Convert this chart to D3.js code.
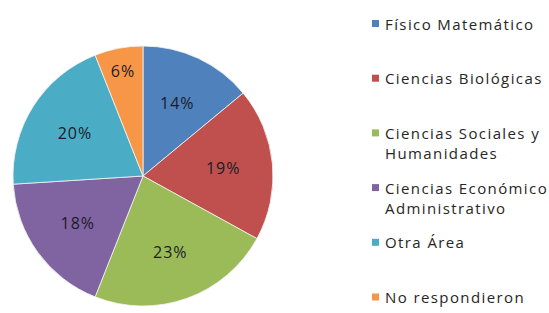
<!DOCTYPE html>
<html>
<head>
<meta charset="utf-8">
<script src="https://cdn.jsdelivr.net/npm/d3@7/dist/d3.min.js"></script>
<style>
  html, body { margin: 0; padding: 0; background: #fff; }
  svg { display: block; }
  text { font-family: "Open Sans", "Liberation Sans", sans-serif; }
</style>
</head>
<body>
<svg id="chart" width="549" height="313"></svg>
<script>
// data
const categories = [
    ['Físico Matemático'],
    ['Ciencias Biológicas'],
    ['Ciencias Sociales y', 'Humanidades'],
    ['Ciencias Económico', 'Administrativo'],
    ['Otra Área'],
    ['No respondieron'],
];
const values = [14, 19, 23, 18, 20, 6];
const colors = ['#4f81bd', '#c0504d', '#9bbb59', '#8064a2', '#4bacc6', '#f79646'];

const CX = 143;
const CY = 176;
const RADIUS = 130;

const svg = d3.select('#chart');

const slices = d3.pie().sort(null).value(d => d)(values);
const arc = d3.arc().innerRadius(0).outerRadius(RADIUS);

const pieG = svg.append('g')
    .attr('transform', `translate(${CX},${CY})`);

pieG.selectAll('path.slice')
    .data(slices)
    .enter().append('path')
    .attr('class', 'slice')
    .attr('d', arc)
    .attr('fill', (d, i) => colors[i])
    .attr('stroke', '#f4f4f4')
    .attr('stroke-width', 0.8);

// small slices get their label pushed further out
const labelArc = d => {
    const share = (d.endAngle - d.startAngle) / (2 * Math.PI);
    const r = share < 0.1 ? RADIUS * 0.82 : RADIUS * 0.62;
    return d3.arc().innerRadius(r).outerRadius(r).centroid(d);
};

pieG.selectAll('text.pct')
    .data(slices)
    .enter().append('text')
    .attr('class', 'pct')
    .attr('x', d => labelArc(d)[0])
    .attr('y', d => labelArc(d)[1])
    .attr('text-anchor', 'middle')
    .attr('dominant-baseline', 'central')
    .attr('font-size', '16px')
    .attr('letter-spacing', '1px')
    .attr('fill', '#1b1b2a')
    .text(d => d.data + '%');

// legend
const legendY = d3.scalePoint()
    .domain(d3.range(categories.length))
    .range([23.5, 297]);

const legend = svg.append('g').attr('class', 'legend');
const item = legend.selectAll('g.item')
    .data(categories)
    .enter().append('g')
    .attr('class', 'item')
    .attr('transform', (d, i) => `translate(372,${legendY(i)})`);

item.append('rect')
    .attr('x', 0)
    .attr('y', -3.5)
    .attr('width', 7)
    .attr('height', 7)
    .attr('fill', (d, i) => colors[i]);

item.append('text')
    .attr('font-size', '15px')
    .attr('letter-spacing', '1.4px')
    .attr('fill', '#262626')
    .selectAll('tspan')
    .data(d => d)
    .enter().append('tspan')
    .attr('x', 13)
    .attr('y', (d, i) => i * 20)
    .attr('dominant-baseline', 'central')
    .text(d => d);
</script>
</body>
</html>
